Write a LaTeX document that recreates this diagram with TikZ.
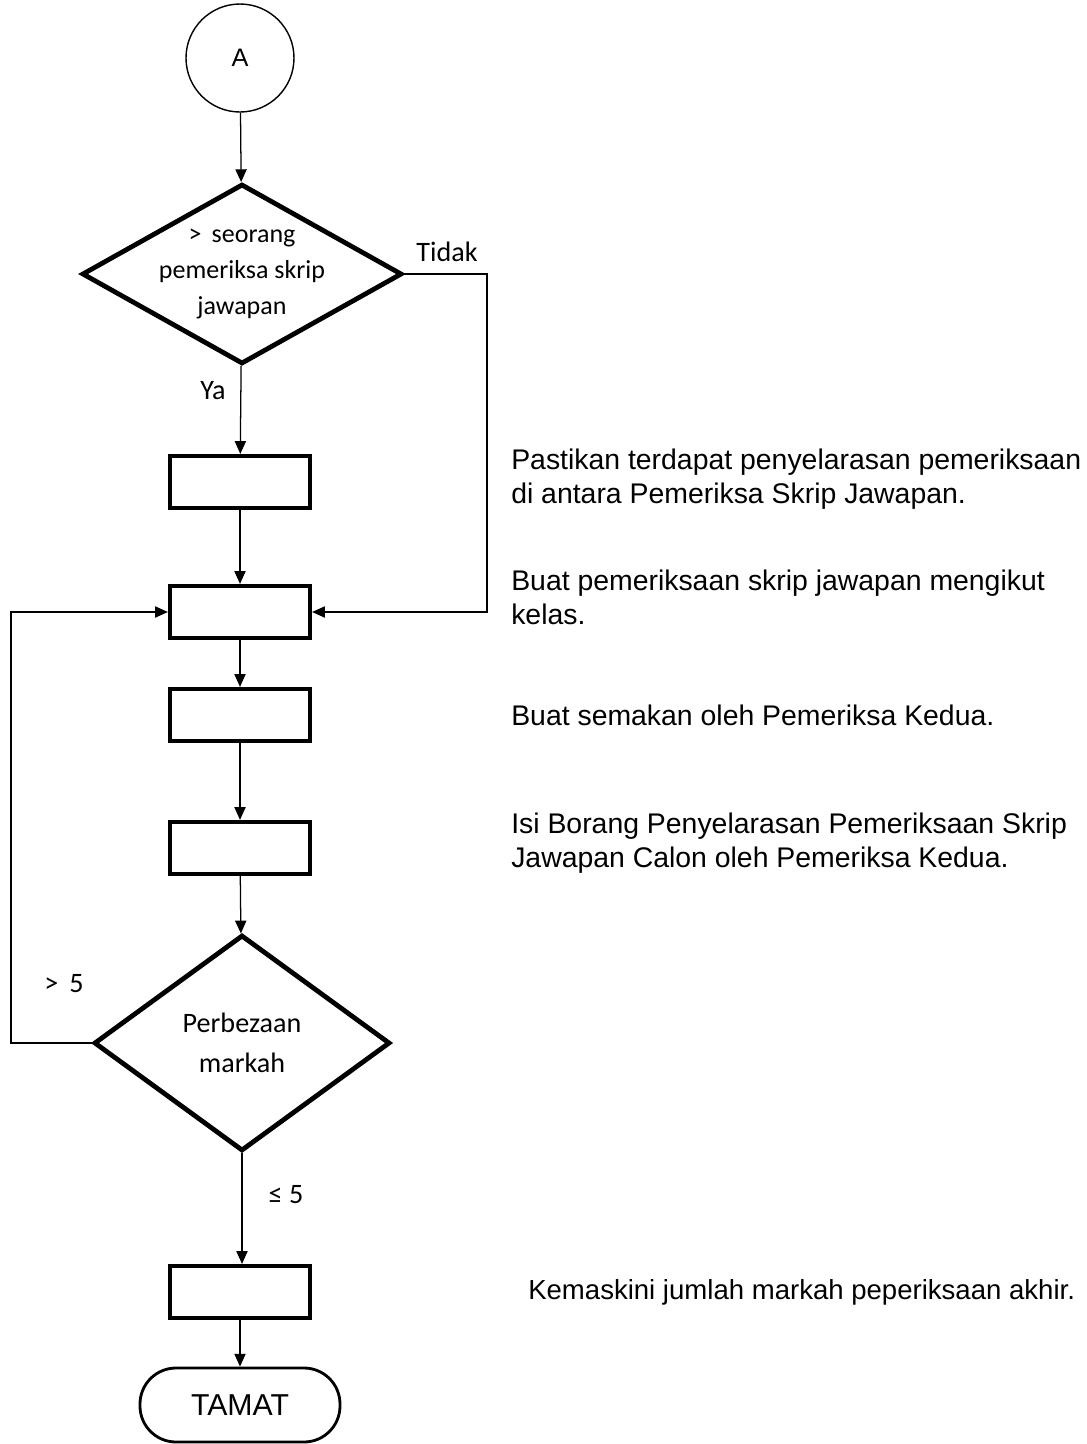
\documentclass[tikz,border=0pt]{standalone}
\usepackage{fontspec}
\setmainfont{Liberation Sans}
\newfontfamily\calib{Carlito}
\usepackage{tikz}
\usetikzlibrary{arrows.meta,positioning,shapes.geometric}

\begin{document}
\begin{tikzpicture}[
  font=\fontsize{20.2pt}{24.5pt}\selectfont,
  proc/.style  = {rectangle, draw=black, line width=3pt, fill=white,
                  minimum width=35mm, minimum height=13mm},
  dec/.style   = {diamond, draw=black, line width=3.4pt, fill=white, align=center,
                  inner sep=-9mm, font=\calib\fontsize{18.5pt}{25.5pt}\selectfont},
  conn/.style  = {circle, draw=black, line width=1pt, minimum size=27mm,
                  font=\fontsize{18pt}{20pt}\selectfont},
  term/.style  = {rectangle, rounded corners=9mm, draw=black, line width=2pt,
                  minimum width=50mm, minimum height=18.5mm,
                  font=\fontsize{21.5pt}{24pt}\selectfont},
  note/.style  = {anchor=west, align=left, inner sep=0pt},
  lbl/.style   = {font=\calib\fontsize{20pt}{24pt}\selectfont, inner sep=1pt},
  arr/.style   = {-{Triangle[length=3.2mm,width=2.8mm]}, line width=0.9pt}
]
\useasboundingbox (0,0) rectangle (27.15,-36.1);

%%%%%%%%%%%%%%%%%%%%%%% MAIN FLOW %%%%%%%%%%%%%%%%%%%%%%%%%%%%%%%%%%%%%%%%%%%%
\node[conn] (conA) at (6.0,-1.45) {A};
\node[dec, minimum width=80mm, minimum height=45mm] (q1) at (6.05,-6.85)
      {>\, seorang\\pemeriksa skrip\\jawapan};
\node[proc] (s1) at (6.0,-12.05) {};
\node[proc] (s2) at (6.0,-15.3) {};
\node[proc] (s3) at (6.0,-17.875) {};
\node[proc] (s4) at (6.0,-21.2) {};
\node[dec, minimum width=74mm, minimum height=54mm,
      font=\calib\fontsize{20pt}{28.5pt}\selectfont] (q2) at (6.05,-26.075)
      {Perbezaan\\markah};
\node[proc] (s5) at (6.0,-32.3) {};
\node[term] (tamat) at (6.0,-35.125) {TAMAT};

\coordinate (rt) at (12.175,-6.85);
\coordinate (lt) at (0.275,-26.075);

\draw[arr] (conA) -- (q1);
\draw[arr] (q1) -- (s1);
\draw[arr] (s1) -- (s2);
\draw[arr] (s2) -- (s3);
\draw[arr] (s3) -- (s4);
\draw[arr] (s4) -- (q2);
\draw[arr] (q2.south) -- (s5.north -| q2.south);
\draw[arr] (s5) -- (tamat);
\draw[arr] (q1.east) -- (rt) |- (s2.east);
\draw[arr] (q2.west) -- (lt) |- (s2.west);

\node[lbl] (ya)    at (5.325,-9.775) {Ya};
\node[lbl] (tidak) at (11.175,-6.3) {Tidak};
\node[lbl] (gt)    at (1.6,-24.6) {>\, 5};
\node[lbl] (le)    at (7.15,-29.875) {≤ 5};

%%%%%%%%%%%%%%%%%%%%%%% NOTES %%%%%%%%%%%%%%%%%%%%%%%%%%%%%%%%%%%%%%%%%%%%%%%%%
\node[note] (n1) at (12.775,-11.975)
      {Pastikan terdapat penyelarasan pemeriksaan\\di antara Pemeriksa Skrip Jawapan.};
\node[note] (n2) at (12.775,-14.94)
      {Buat pemeriksaan skrip jawapan mengikut\\kelas.};
\node[note] (n3) at (12.775,-17.875) {Buat semakan oleh Pemeriksa Kedua.};
\node[note] (n4) at (12.775,-21.075)
      {Isi Borang Penyelarasan Pemeriksaan Skrip\\Jawapan Calon oleh Pemeriksa Kedua.};
\node[note, font=\fontsize{19.6pt}{24pt}\selectfont] (n5) at (13.2,-32.3)
      {Kemaskini jumlah markah peperiksaan akhir.};

\end{tikzpicture}
\end{document}
